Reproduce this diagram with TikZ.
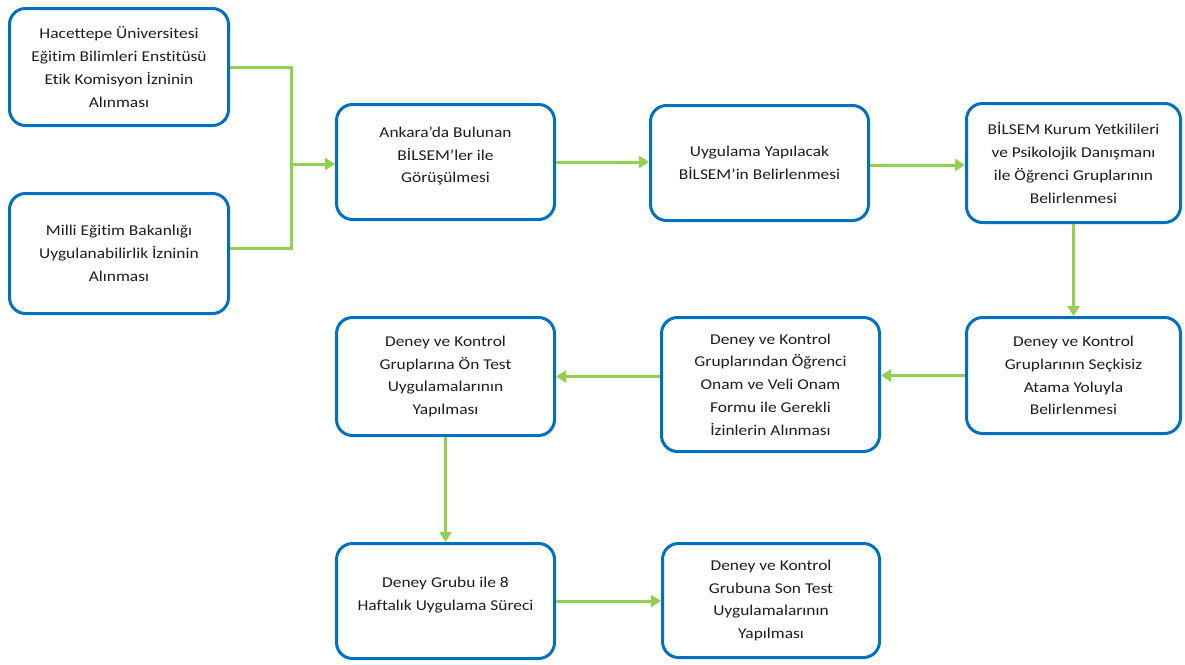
\documentclass[tikz,border=0pt]{standalone}
\usepackage{fontspec}
\setmainfont{Carlito}[FakeStretch=1.16,Ligatures=NoCommon]
\usetikzlibrary{arrows.meta}
\definecolor{boxblue}{HTML}{0070C0}
\definecolor{lgreen}{HTML}{92D050}
\definecolor{txtcol}{HTML}{1E1E1E}
\begin{document}
\begin{tikzpicture}[x=1pt,y=-1pt,
  box/.style={draw=boxblue,line width=3pt,rounded corners=16pt,fill=white,
    align=center,inner sep=0pt,text=txtcol,
    font=\fontsize{15}{22.8}\selectfont},
  txt/.style={align=center,inner sep=0pt,text=txtcol,
    font=\fontsize{15}{22.8}\selectfont},
  conn/.style={draw=lgreen,line width=3pt},
  arr/.style={conn,-{Triangle[length=10pt,width=12pt]}}]
\useasboundingbox (0,0) rectangle (1185,664);
\node[box,minimum width=219pt,minimum height=117pt] (b1) at (119,67)
  {Hacettepe Üniversitesi\\Eğitim Bilimleri Enstitüsü\\Etik Komisyon İzninin\\Alınması};
\node[box,minimum width=219pt,minimum height=120pt] (b2) at (119,253.5)
  {Milli Eğitim Bakanlığı\\Uygulanabilirlik İzninin\\Alınması};
\node[box,minimum width=218pt,minimum height=115pt] (b3) at (445.5,162) {};
\node[txt] (t3) at ([yshift=6pt]b3.center)
  {Ankara’da Bulunan\\BİLSEM’ler ile\\Görüşülmesi};
\node[box,minimum width=218pt,minimum height=115pt] (b4) at (759.5,163)
  {Uygulama Yapılacak\\BİLSEM’in Belirlenmesi};
\node[box,minimum width=214pt,minimum height=119pt] (b5) at (1073.5,163)
  {BİLSEM Kurum Yetkilileri\\ve Psikolojik Danışmanı\\ile Öğrenci Gruplarının\\Belirlenmesi};
\node[box,minimum width=214pt,minimum height=116pt] (b6) at (1073.5,375.5)
  {Deney ve Kontrol\\Gruplarının Seçkisiz\\Atama Yoluyla\\Belirlenmesi};
\node[box,minimum width=218pt,minimum height=134pt] (b7) at (770.5,384.5)
  {Deney ve Kontrol\\Gruplarından Öğrenci\\Onam ve Veli Onam\\Formu ile Gerekli\\İzinlerin Alınması};
\node[box,minimum width=218pt,minimum height=118pt] (b8) at (445.5,376.5)
  {Deney ve Kontrol\\Gruplarına Ön Test\\Uygulamalarının\\Yapılması};
\node[box,minimum width=218pt,minimum height=115pt] (b9) at (445.5,601) {};
\node[txt] (t9) at ([yshift=6pt]b9.center)
  {Deney Grubu ile 8\\Haftalık Uygulama Süreci};
\node[box,minimum width=217pt,minimum height=114pt] (b10) at (771,600.5)
  {Deney ve Kontrol\\Grubuna Son Test\\Uygulamalarının\\Yapılması};
% connectors
\coordinate (j) at (291,164);
\draw[conn] (b1.east) -| (j) |- ([yshift=5.5pt]b2.east);
\draw[arr] (j) -- (b3.west |- j);
\draw[arr] (b3.east) -- (b4.west |- b3.east);
\draw[arr] ([yshift=-2pt]b4.east) -- ([yshift=-2pt]b5.west);
\draw[arr] (b5.south) -- (b6.north);
\draw[arr] (b6.west) -- (b7.east |- b6.west);
\draw[arr] (b7.west |- b8.east) -- (b8.east);
\draw[arr] (b8.south) -- (b9.north);
\draw[arr] (b9.east) -- (b10.west |- b9.east);
\end{tikzpicture}
\end{document}
